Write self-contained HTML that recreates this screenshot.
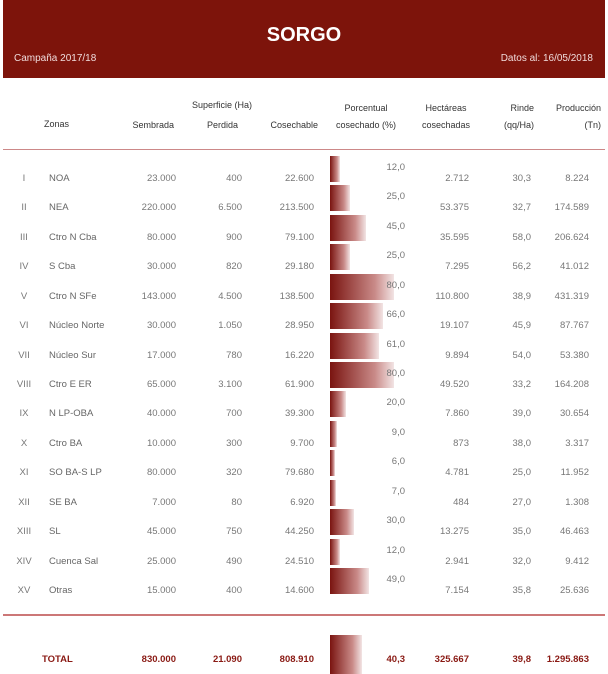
<!DOCTYPE html><html><head><style>
body{margin:0;width:608px;height:674px;background:#fff;font-family:"Liberation Sans",sans-serif;position:relative;overflow:hidden}
.a{position:absolute;font-size:9.5px;color:#777;white-space:nowrap}
.r{text-align:right}
.c{text-align:center}
.bar{position:absolute;left:330px;height:26px;background:linear-gradient(to right,#7a1410,#c98a88 70%,#f2e4e4)}
.h{color:#333;font-size:9px}
.t{color:#8a1a14;font-weight:bold}
</style></head><body>
<div style="position:absolute;left:3px;top:0;width:602px;height:78px;background:#7d140b"></div>
<div class="a" style="left:0;width:608px;top:24px;text-align:center;color:#fff;font-size:20px;font-weight:bold">SORGO</div>
<div class="a" style="left:14px;top:53px;color:#f0dcdc;font-size:10px">Campaña 2017/18</div>
<div class="a" style="right:15px;top:53px;color:#f0dcdc;font-size:10px">Datos al: 16/05/2018</div>
<div class="a h c" style="left:180px;width:84px;top:100px">Superficie (Ha)</div>
<div class="a h" style="left:44px;top:119px">Zonas</div>
<div class="a h r" style="right:434px;top:120px">Sembrada</div>
<div class="a h r" style="right:370px;top:120px">Perdida</div>
<div class="a h r" style="right:290px;top:120px">Cosechable</div>
<div class="a h c" style="left:326px;width:80px;top:100px;line-height:17px">Porcentual<br>cosechado (%)</div>
<div class="a h c" style="left:411px;width:70px;top:100px;line-height:17px">Hectáreas<br>cosechadas</div>
<div class="a h r" style="right:74px;top:100px;line-height:17px">Rinde<br>(qq/Ha)</div>
<div class="a h r" style="right:7px;top:100px;line-height:17px">Producción<br>(Tn)</div>
<div style="position:absolute;left:3px;top:149px;width:602px;height:1px;background:#c88"></div>
<div style="position:absolute;left:3px;top:614px;width:602px;height:2px;background:#c77"></div>
<div id="rows"></div>
<div class="bar" style="top:635px;height:39px;width:32px"></div>
<div class="a t" style="left:42px;top:654px">TOTAL</div>
<div class="a t" style="right:432px;top:654px">830.000</div>
<div class="a t" style="right:366px;top:654px">21.090</div>
<div class="a t" style="right:294px;top:654px">808.910</div>
<div class="a t" style="right:203px;top:654px">40,3</div>
<div class="a t" style="right:139px;top:654px">325.667</div>
<div class="a t" style="right:77px;top:654px">39,8</div>
<div class="a t" style="right:19px;top:654px">1.295.863</div>
<script>
var d=[["I","NOA","23.000","400","22.600",12,"2.712","30,3","8.224"],
["II","NEA","220.000","6.500","213.500",25,"53.375","32,7","174.589"],
["III","Ctro N Cba","80.000","900","79.100",45,"35.595","58,0","206.624"],
["IV","S Cba","30.000","820","29.180",25,"7.295","56,2","41.012"],
["V","Ctro N SFe","143.000","4.500","138.500",80,"110.800","38,9","431.319"],
["VI","Núcleo Norte","30.000","1.050","28.950",66,"19.107","45,9","87.767"],
["VII","Núcleo Sur","17.000","780","16.220",61,"9.894","54,0","53.380"],
["VIII","Ctro E ER","65.000","3.100","61.900",80,"49.520","33,2","164.208"],
["IX","N LP-OBA","40.000","700","39.300",20,"7.860","39,0","30.654"],
["X","Ctro BA","10.000","300","9.700",9,"873","38,0","3.317"],
["XI","SO BA-S LP","80.000","320","79.680",6,"4.781","25,0","11.952"],
["XII","SE BA","7.000","80","6.920",7,"484","27,0","1.308"],
["XIII","SL","45.000","750","44.250",30,"13.275","35,0","46.463"],
["XIV","Cuenca Sal","25.000","490","24.510",12,"2.941","32,0","9.412"],
["XV","Otras","15.000","400","14.600",49,"7.154","35,8","25.636"]];
var h="";
d.forEach(function(r,i){var y=173+i*29.43;
h+='<div class="bar" style="top:'+(y-17)+'px;width:'+(r[5]*0.8)+'px"></div>';
h+='<div class="a c" style="left:8px;width:32px;top:'+y+'px">'+r[0]+'</div>';
h+='<div class="a" style="left:49px;top:'+y+'px;color:#666">'+r[1]+'</div>';
h+='<div class="a" style="right:432px;top:'+y+'px">'+r[2]+'</div>';
h+='<div class="a" style="right:366px;top:'+y+'px">'+r[3]+'</div>';
h+='<div class="a" style="right:294px;top:'+y+'px">'+r[4]+'</div>';
h+='<div class="a" style="right:203px;top:'+(y-11)+'px">'+r[5]+',0</div>';
h+='<div class="a" style="right:139px;top:'+y+'px">'+r[6]+'</div>';
h+='<div class="a" style="right:77px;top:'+y+'px">'+r[7]+'</div>';
h+='<div class="a" style="right:19px;top:'+y+'px">'+r[8]+'</div>';});
document.getElementById("rows").innerHTML=h;
</script>
</body></html>
